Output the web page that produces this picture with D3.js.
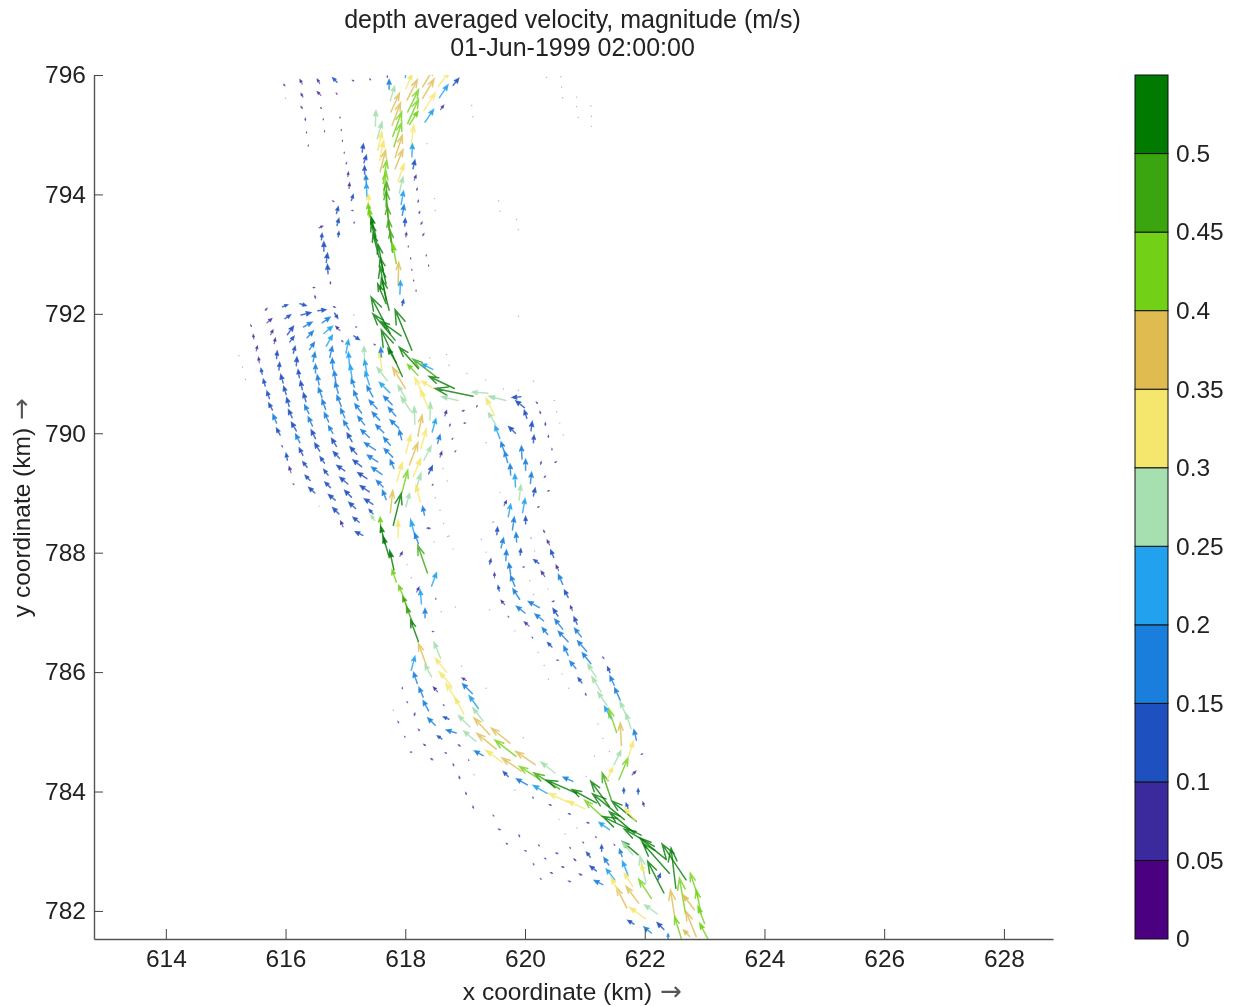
<!DOCTYPE html>
<html>
<head>
<meta charset="utf-8">
<title>depth averaged velocity</title>
<script src="https://cdnjs.cloudflare.com/ajax/libs/d3/7.8.5/d3.min.js"></script>
<style>
  html, body { margin: 0; padding: 0; background: #fff; }
  svg { display: block; filter: blur(0.4px); }
  text { font-family: "Liberation Sans", Arial, sans-serif; fill: #222; }
</style>
</head>
<body>
<div id="chart"></div>
<script>
// one row = [x km, y km, u m/s, v m/s, speed m/s]
const northReach = [
[616.28,795.85,-.04,.07,.07],[616.57,795.86,-.04,.07,.07],[616.86,795.88,-.07,.07,.12],[617.14,795.90,-.02,.01,.02],[617.42,795.92,-.01,.01,.02],[617.70,795.96,0,.02,.07],[615.99,795.82,-.02,.02,.07],
[617.73,795.76,0,.16,.17],[617.75,795.57,.07,.24,.27],[618.0,795.96,.03,.2,.22],[618.01,795.77,.10,.24,.32],[618.03,795.58,.17,.34,.37],[618.04,795.38,.18,.37,.42],[618.29,795.80,.19,.32,.37],[618.29,795.61,.19,.32,.37],[618.55,795.81,.19,.25,.32],[618.57,795.62,.14,.21,.22],[618.80,795.83,.09,.11,.12],[618.31,795.40,.19,.30,.32],[618.59,795.42,.05,.07,.07],[618.33,795.21,.14,.21,.22],[618.04,795.19,.18,.40,.42],[618.07,795.17,.14,.22,.42],
[617.76,795.38,.14,.31,.37],[617.78,795.16,.14,.37,.37],[617.79,794.97,.15,.41,.42],[617.81,794.80,.13,.40,.42],[617.83,794.62,.12,.37,.37],[617.83,794.43,.13,.32,.37],[617.88,794.22,.10,.29,.32],[617.90,794.02,.06,.27,.27],[617.93,793.83,.04,.22,.22],[617.95,793.65,.03,.17,.17],[617.99,793.47,.01,.12,.12],[618.01,793.29,.01,.07,.07],
[618.10,794.81,.04,.35,.32],[618.11,794.63,.01,.21,.22],[618.13,794.43,.03,.14,.12],[618.15,794.24,.03,.08,.07],[618.19,794.07,.01,.03,.07],[618.21,793.87,.01,.03,.07],[618.23,793.68,.01,.03,.07],[618.26,793.50,.02,.03,.07],[618.29,793.31,.02,.03,.07],[618.05,793.12,0,.01,.02],[618.09,792.92,0,.01,.02],[618.35,792.97,0,.01,.02],[618.11,792.73,0,.01,.02],[618.39,792.80,0,.01,.02],[618.14,792.55,0,.01,.02],[618.18,792.38,0,.01,.02],
[617.50,795.14,.01,.26,.27],[617.53,794.93,.08,.28,.27],[617.54,794.74,.07,.31,.32],[617.57,794.57,.07,.33,.32],[617.58,794.38,.09,.36,.37],[617.63,794.18,.06,.39,.42],[617.64,793.99,.04,.39,.42],[617.68,793.79,.01,.42,.47],[617.71,793.62,-.03,.44,.47],[617.73,793.40,-.03,.40,.47],[617.76,793.20,-.04,.38,.47],[617.79,793.03,-.04,.36,.47],[617.85,792.84,-.06,.33,.42],[617.88,792.50,.01,.36,.37],[617.91,792.33,.01,.22,.22],[617.95,792.14,.02,.09,.12],
[617.28,794.71,.02,.13,.12],[617.31,794.53,.04,.12,.12],[617.32,794.34,0,.13,.12],[617.35,794.18,-.01,.14,.17],[617.36,793.96,-.01,.22,.22],[617.38,793.79,.01,.2,.32],[617.40,793.62,-.02,.22,.42],[617.45,793.45,-.06,.32,.42],[617.51,793.29,-.08,.33,.52],[617.54,793.12,-.11,.39,.52],[617.56,792.95,-.10,.39,.52],[617.63,792.73,-.08,.42,.52],[617.68,792.50,-.10,.44,.52],[617.68,792.23,-.10,.56,.52],[617.73,792.06,-.13,.53,.52],[617.68,792.17,-.14,.33,.52],
[616.81,793.88,-.02,.01,.07],[616.85,793.68,.03,.11,.12],[616.86,793.48,.03,.11,.12],[616.88,793.29,.01,.08,.12],[617.13,793.73,-.02,0,.07],[617.14,793.52,.01,.01,.07],[617.10,793.90,.03,.09,.12],[617.06,794.10,.01,.09,.07],[617.04,794.30,.01,.07,.07],[617.01,794.51,.01,.02,.07],[616.98,794.69,0,.01,.02],[616.95,794.89,0,.01,.02],[616.93,795.07,0,.01,.02],[616.91,795.28,0,.01,.02],
[616.56,793.44,.06,.03,.07],[616.60,793.24,.01,.10,.12],[616.64,793.05,0,.15,.12],[616.68,792.86,.02,.15,.12],[616.71,792.67,-.01,.15,.12],[616.75,792.50,0,.03,.07],[616.46,792.44,.02,0,.02],[616.50,792.26,-.01,.04,.07],
[616.28,795.44,-.02,.03,.07],[616.33,795.24,0,.03,.07],[616.35,795.03,0,.01,.02],[616.38,794.81,0,.01,.02],[616.29,795.63,-.03,.06,.07],[616.59,795.66,-.06,.06,.07],[616.60,795.44,-.01,.01,.02],[616.63,795.25,0,.01,.02],[616.65,795.05,0,.01,.02],[616.86,795.68,-.01,.01,.02]
];
const recirculationFan = [
[615.66,792.06,.03,.03,.07],[615.95,792.12,.08,.03,.12],[616.24,792.17,.10,-.03,.12],[616.54,792.05,.13,.02,.12],[616.26,791.98,.16,.04,.12],[615.99,791.92,.09,.06,.12],[615.69,791.85,.08,.07,.07],[616.61,791.85,.13,.09,.17],[616.30,791.78,.14,.08,.17],[616.03,791.65,.10,.14,.12],
[615.43,791.79,-.01,.02,.07],[615.47,791.58,-.01,.07,.07],[615.51,791.38,.02,.08,.07],[615.56,791.18,-.01,.09,.07],[615.61,790.99,-.02,.09,.12],[615.66,790.79,-.03,.11,.12],[615.73,790.58,-.04,.12,.12],[615.78,790.39,-.06,.11,.12],[615.85,790.17,-.06,.14,.17],[615.91,789.97,-.06,.11,.12],[615.95,789.77,-.01,.02,.07],[616.03,789.55,-.02,.11,.12],[616.09,789.34,-.03,.10,.07],[616.14,789.14,-.01,.01,.07],
[615.75,791.65,.04,.08,.07],[615.81,791.50,.02,.09,.07],[615.85,791.25,.01,.12,.12],[615.89,791.06,.01,.12,.12],[615.96,790.84,-.04,.14,.12],[616.01,790.65,-.04,.13,.12],[616.06,790.45,-.04,.14,.12],[616.11,790.26,-.06,.13,.12],[616.18,790.04,-.08,.14,.12],[616.24,789.84,-.07,.14,.17],[616.29,789.63,-.06,.12,.12],[616.36,789.43,-.07,.09,.12],[616.41,789.21,-.08,.08,.12],[616.49,789.00,-.10,.09,.12],
[616.07,791.53,.07,.09,.12],[616.13,791.34,.03,.11,.12],[616.18,791.13,.01,.14,.12],[616.23,790.93,-.02,.13,.12],[616.28,790.73,-.03,.14,.12],[616.34,790.53,-.04,.14,.12],[616.39,790.33,-.07,.14,.17],[616.45,790.12,-.07,.15,.17],[616.50,789.91,-.07,.14,.12],[616.57,789.70,-.08,.13,.12],[616.65,789.50,-.07,.10,.12],[616.71,789.30,-.07,.09,.12],[616.75,789.09,-.09,.09,.12],[616.83,788.88,-.11,.09,.12],[616.89,788.65,-.10,.10,.12],[616.96,788.43,-.04,.10,.07],
[616.36,791.60,.10,.11,.17],[616.40,791.40,.08,.12,.17],[616.46,791.20,.03,.15,.17],[616.50,791.01,0,.14,.17],[616.56,790.81,-.03,.16,.17],[616.61,790.60,-.06,.16,.17],[616.67,790.40,-.06,.16,.17],[616.72,790.19,-.07,.15,.17],[616.79,790.00,-.07,.12,.17],[616.85,789.78,-.08,.13,.12],[616.90,789.58,-.10,.11,.12],[616.99,789.37,-.13,.09,.12],[617.04,789.15,-.13,.11,.12],[617.10,788.93,-.11,.11,.12],[617.17,788.74,-.11,.10,.12],[617.23,788.51,-.10,.08,.12],[617.29,788.29,-.12,.06,.12],
[616.64,791.67,.14,.12,.22],[616.68,791.46,.10,.18,.22],[616.74,791.27,.04,.18,.17],[616.79,791.07,-.01,.18,.17],[616.84,790.86,-.03,.18,.17],[616.88,790.67,-.05,.18,.17],[616.93,790.45,-.07,.18,.17],[616.99,790.26,-.07,.15,.17],[617.06,790.06,-.09,.15,.17],[617.11,789.86,-.08,.14,.12],[617.19,789.65,-.11,.12,.12],[617.27,789.44,-.14,.11,.12],[617.36,789.24,-.15,.10,.12],[617.40,789.02,-.15,.10,.12],[617.46,788.81,-.14,.09,.12],
[617.01,791.34,.04,.22,.22],[617.07,791.11,-.02,.24,.22],[617.11,790.92,-.03,.22,.22],[617.15,790.77,-.05,.14,.17],[617.21,790.55,-.07,.16,.17],[617.27,790.34,-.11,.15,.17],[617.32,790.14,-.11,.14,.17],[617.40,789.93,-.14,.13,.17],[617.50,789.72,-.18,.12,.17],[617.54,789.52,-.17,.11,.17],[617.61,789.31,-.17,.12,.17],[617.63,789.10,-.11,.11,.17],[617.68,788.89,-.06,.15,.17],[617.46,788.65,-.06,.07,.12],
[617.32,791.20,-.01,.25,.27],[617.36,791.00,-.04,.22,.22],[617.40,790.81,-.07,.22,.22],[617.46,790.61,-.10,.18,.17],[617.53,790.41,-.13,.14,.17],[617.57,790.22,-.12,.13,.17],[617.64,790.01,-.13,.13,.17],[617.75,789.80,-.11,.13,.17],[617.79,789.60,-.14,.14,.17],[617.81,789.41,-.06,.14,.17],
[617.61,791.08,-.04,.28,.32],[617.70,790.88,-.17,.22,.27],[617.74,790.68,-.17,.17,.22],[617.78,790.48,-.14,.14,.17],[617.84,790.29,-.12,.14,.17],[617.89,790.09,-.14,.13,.17],[617.94,789.89,-.04,.16,.17],[617.60,791.28,-.01,.15,.17],
[616.96,791.53,-.02,.02,.07],[617.14,791.63,.09,-.06,.12],[616.91,791.72,-.07,.07,.07],[617.50,791.48,-.02,.01,.07],[616.82,792.01,.05,-.08,.12],[616.80,792.12,.03,-.01,.07],[617.17,791.78,.01,0,.02]
];
const centralChannel = [
[618.00,790.75,-.21,.35,.37],[618.01,790.57,-.13,.23,.27],[618.10,790.36,-.17,.25,.27],[618.16,790.15,-.01,.29,.27],[618.21,789.95,.07,.35,.37],[618.01,789.67,.08,.30,.32],[618.26,789.74,.09,.33,.32],[618.07,789.47,.14,.37,.37],[618.31,789.55,.12,.23,.27],[617.86,789.19,.09,.32,.32],[618.13,789.27,.13,.31,.32],[617.94,788.99,.10,.39,.42],[618.17,789.02,.09,.31,.27],[618.39,789.32,.06,.13,.12],[618.54,789.83,.04,.14,.17],[618.45,790.02,.06,.22,.22],[618.58,789.60,.03,.09,.07],[618.41,790.22,.01,.29,.27],[618.39,790.41,-.14,.32,.32],[618.25,788.85,-.07,.28,.32],[617.75,788.67,.04,.37,.37],[618.01,788.77,.06,.22,.27],[617.80,788.46,.13,.53,.52],[617.88,788.25,0,.29,.32],[618.32,788.63,-.03,.14,.17],[618.17,788.24,-.08,.31,.22],
[617.75,791.67,-.32,.61,.52],[618.11,791.39,-.28,.68,.52],[617.83,791.56,-.37,.44,.52],[617.93,791.63,-.33,.24,.52],[617.85,791.18,-.14,.24,.52],[617.95,790.95,-.35,.78,.52],[618.22,791.08,-.32,.36,.52],[618.51,790.95,-.38,.29,.47],[618.82,790.75,-.42,.20,.52],[619.13,790.62,-.63,.13,.52],[618.21,790.97,-.17,.18,.42],[618.46,791.07,-.18,.09,.22],[618.47,790.75,-.19,.12,.32],[618.32,790.61,-.16,.32,.32],[618.88,790.55,-.27,.06,.27],[619.38,790.67,-.26,.02,.27],[619.68,790.55,-.28,.07,.27],[619.49,790.30,-.14,.29,.32],[619.51,790.15,-.12,.19,.27],
[618.66,790.29,.03,.09,.07],[618.95,790.37,.03,.01,.07],[619.19,790.44,.01,.02,.07],[618.74,790.12,.01,.03,.07],[618.98,790.17,.02,0,.02],[618.78,789.90,.01,.01,.02],[618.83,789.69,.01,.01,.02],[618.45,789.13,.01,.01,.02],[618.36,788.41,.05,0,.07],[617.91,787.94,.04,.07,.07],
[617.49,788.54,-.06,.08,.27],[617.59,788.41,-.01,.18,.42],[617.66,788.15,-.07,.29,.52],[617.72,787.96,-.09,.31,.52],[617.81,787.71,-.07,.32,.52],[617.85,787.51,-.07,.20,.42],[617.97,787.26,-.08,.19,.42],[618.05,787.04,-.09,.22,.47],[618.13,786.81,-.11,.28,.47],[618.22,786.51,-.13,.36,.52],
[618.37,787.66,-.16,.46,.47],[618.22,788.15,-.06,.17,.17],[618.44,787.44,.08,.22,.22],[618.27,787.14,-.02,.23,.22],[618.33,786.91,0,.15,.17],[618.19,787.34,.04,.08,.07],[618.51,787.22,0,.01,.02],[618.45,786.68,.02,0,.07]
];
const eastBranch = [
[619.93,790.61,-.14,-.01,.12],[619.99,790.43,-.14,.11,.12],[620.03,790.25,-.04,.13,.12],[620.10,790.04,.02,.15,.12],[620.14,789.84,.01,.12,.12],[620.21,790.50,-.02,.02,.07],[620.26,790.33,-.01,.03,.07],[620.34,790.13,0,.04,.07],[620.39,789.93,0,.03,.07],[620.45,789.72,0,.02,.07],[620.26,789.48,.01,.04,.07],[620.32,789.26,.02,.02,.07],[620.50,789.51,.02,.01,.02],[620.38,789.03,.02,.01,.07],[620.21,788.76,.02,.01,.07],
[619.58,789.91,-.08,.21,.22],[619.65,789.70,-.05,.15,.17],[619.71,789.51,-.05,.18,.17],[619.76,789.30,-.01,.18,.17],[619.84,789.10,-.01,.21,.22],[619.90,788.88,.03,.25,.27],[619.96,788.67,.04,.23,.22],[620.01,788.48,0,.12,.12],[619.86,788.18,-.01,.15,.17],[619.79,788.38,.03,.21,.17],[619.84,790.0,-.11,.11,.12],[619.95,789.57,-.01,.21,.17],[620.01,789.38,0,.18,.17],[620.09,789.16,.02,.18,.17],[620.14,788.95,.03,.13,.12],[619.65,788.79,.04,.08,.07],
[619.72,788.60,.04,.21,.22],[619.53,788.30,.01,.12,.12],[619.60,788.08,.04,.16,.17],[619.68,787.87,.01,.17,.17],[619.92,787.96,.01,.10,.12],[619.41,787.81,.02,.08,.12],[619.76,787.64,-.03,.18,.17],[619.83,787.44,-.07,.17,.17],[619.49,787.58,0,.08,.07],[619.57,787.36,-.02,.08,.12],[619.91,787.22,-.11,.17,.17],[619.66,787.13,-.06,.07,.07],[620.0,786.99,-.14,.11,.17],[620.24,787.08,-.18,.10,.17],[620.31,786.86,-.14,.11,.17],[620.23,787.82,-.08,.06,.12],[620.33,787.60,-.06,.09,.07],[620.33,788.34,-.02,.03,.07],[620.41,788.13,-.04,.08,.07],[620.48,787.92,-.05,.12,.12],[620.56,787.70,-.04,.09,.07],[620.63,787.47,-.07,.16,.17],[620.72,787.25,-.06,.12,.12],[620.49,787.19,-.03,-.01,.07],[620.55,786.94,-.08,.12,.12],[620.63,786.72,-.13,.16,.17],[620.72,786.51,-.16,.17,.17],[620.79,787.03,-.03,.08,.07],[620.87,786.80,-.05,.12,.12],[620.94,786.59,-.11,.14,.17],[621.03,786.35,-.15,.17,.17],[621.10,786.14,-.14,.18,.17],[621.19,785.91,-.14,.22,.27],[621.27,785.67,-.15,.25,.27],[621.37,785.44,-.15,.22,.27],[621.44,785.22,-.11,.20,.22],[621.53,784.99,-.13,.39,.42],[621.59,785.53,-.09,.20,.17],[621.49,785.78,-.07,.15,.17],[621.42,785.99,-.04,.09,.12],[621.32,786.23,-.02,.02,.07],[621.70,785.25,-.11,.25,.27],[621.77,785.05,-.08,.25,.27],
[620.07,786.77,-.08,.07,.07],[620.38,786.63,-.09,.11,.17],[620.85,786.06,-.10,.12,.17],[620.72,786.28,-.07,.15,.17],[620.45,786.42,-.07,.07,.12],[620.95,785.82,-.06,.08,.12],[620.13,786.57,-.01,.01,.07],[619.73,786.92,-.01,.01,.07],[620.53,786.20,.02,0,.07],[621.02,785.61,-.01,.03,.07],[619.99,787.76,-.02,0,.07]
];
const southBend = [
[618.59,786.23,-.11,.27,.27],[618.69,786.00,-.19,.23,.32],[618.78,785.76,-.21,.24,.32],[618.87,785.50,-.19,.31,.32],[618.98,785.30,-.15,.27,.32],[619.30,785.18,-.17,.22,.27],[618.35,786.12,-.13,.36,.37],[618.44,785.92,-.11,.20,.27],[619.22,785.39,-.15,.21,.22],[619.12,785.64,-.16,.16,.17],[619.02,785.86,-.07,.04,.07],[618.39,785.35,-.09,.17,.17],[618.30,785.58,-.07,.16,.17],[618.20,785.81,-.06,.18,.17],[618.10,786.03,.06,.23,.22],[618.54,785.67,-.07,.08,.07],[618.65,785.44,-.01,.01,.07],[618.04,785.49,-.01,.01,.07],[617.95,785.72,0,.02,.07],
[618.15,785.27,.01,.04,.07],[618.50,785.11,-.12,.12,.17],[618.73,785.21,-.09,.04,.12],[619.08,785.08,-.19,.19,.27],[617.89,785.15,-.01,.02,.07],[618.24,785.02,-.02,.02,.07],[618.0,784.91,-.01,.01,.07],[618.61,784.88,-.07,.05,.12],[618.85,784.98,-.16,.05,.17],[619.18,784.84,-.20,.17,.27],[619.41,784.95,-.26,.28,.37],[619.52,784.71,-.32,.26,.37],[619.75,784.81,-.31,.25,.37],[618.34,784.77,-.03,.02,.07],[618.11,784.66,-.02,0,.07],[618.69,784.64,-.02,.01,.07],[618.92,784.76,-.03,.02,.07],[619.30,784.60,-.14,.08,.17],[619.85,784.59,-.35,.27,.42],[619.62,784.49,-.27,.20,.32],[620.17,784.45,-.32,.22,.37],[620.50,784.31,-.23,.18,.27],[619.94,784.34,-.32,.22,.37],[618.46,784.53,-.03,.02,.07],[618.81,784.43,-.01,.03,.07],[619.06,784.52,0,.01,.07],[618.91,784.21,-.01,.04,.07],[619.72,784.25,-.08,.08,.12],[620.04,784.11,-.18,.10,.17],[620.80,784.17,-.16,.07,.17],[620.37,783.97,-.23,.13,.22],[620.25,784.20,-.34,.22,.42],[620.58,784.04,-.43,.27,.47],[620.86,783.97,-.50,.22,.52],[621.19,783.81,-.40,.22,.52],[620.72,783.82,-.32,.15,.32],[621.0,783.71,-.29,.13,.32],[621.29,783.58,-.29,.27,.42],
[619.02,783.95,-.01,.03,.07],[619.14,783.72,-.01,.03,.07],[619.48,783.59,-.01,.01,.07],[619.59,783.36,-.03,.01,.07],[619.91,783.24,-.01,.03,.07],[619.71,783.12,-.02,.01,.07],[620.24,783.09,-.01,.01,.07],[620.02,783.0,-.02,.01,.07],[620.35,782.87,-.02,.01,.07],[620.55,782.96,-.03,.01,.07],[620.15,782.77,-.01,.02,.07],[620.65,782.73,-.03,.01,.07],[620.46,782.63,-.03,.01,.07],[620.27,782.53,-.01,.01,.07],[620.76,782.49,-.03,.01,.07],[620.95,782.60,-.04,.02,.07],[620.85,782.84,-.03,.03,.07],[620.76,783.05,-.01,.01,.07],[620.98,783.14,-.01,.01,.02],[621.09,782.90,-.06,.08,.12],[621.19,782.67,-.10,.08,.12],[621.28,783.0,0,.10,.12],[621.50,783.10,-.01,.01,.07],[621.19,783.23,-.01,.01,.07],[621.07,783.47,-.03,.01,.07],[620.76,783.62,-.03,.01,.07],[620.44,783.77,-.03,.01,.07],[620.14,783.89,-.01,.01,.07],
[621.41,783.36,-.17,.12,.22],[621.30,782.44,-.14,.07,.17],[621.50,782.52,-.14,.18,.22],[621.40,782.77,-.08,.12,.17],[621.72,782.60,-.09,.23,.22],[621.62,782.91,-.04,.12,.17],
[621.44,783.87,-.15,.44,.47],[621.41,783.75,-.31,.42,.52],[621.66,783.53,-.53,.43,.52],[621.86,783.50,-.41,.34,.52],[621.83,783.30,-.42,.36,.52],[621.94,783.27,-.64,.31,.52],[622.16,783.08,-.50,.29,.52],[622.36,782.86,-.44,.36,.52],[621.89,782.94,-.26,.22,.52],[622.41,782.63,-.44,.50,.52],[622.32,782.30,-.27,.53,.52],[622.52,782.38,-.08,.67,.52],[622.69,782.52,-.40,.60,.52],[621.80,782.94,-.17,.21,.27],[621.85,783.50,-.18,.22,.32],[622.02,782.47,-.10,.45,.27],[622.0,782.63,-.06,.14,.32],[622.11,782.21,-.21,.32,.42],
[621.57,784.20,.15,.36,.42],[621.37,784.19,.09,.21,.32],[621.49,784.45,.11,.23,.27],[621.72,784.56,.09,.28,.32],[621.61,784.77,-.02,.38,.37],[621.86,784.86,-.04,.17,.17],[621.94,784.62,.02,.01,.07],[621.79,784.28,.06,.06,.07],[621.65,783.97,0,.08,.12],[621.89,783.96,0,.08,.12],[621.72,783.72,-.03,.08,.12],[621.99,783.75,-.02,.07,.07],[622.22,782.52,.04,.10,.12],
[621.90,782.13,-.21,.28,.37],[621.80,782.41,-.14,.22,.32],[621.70,782.05,-.17,.34,.37],[621.57,782.30,-.13,.25,.32],[622.01,781.87,-.26,.19,.32],[622.21,781.95,-.21,.15,.27],[621.82,781.78,-.10,.06,.12],[622.11,781.63,-.12,.10,.17],[622.32,781.69,-.11,.11,.12],[622.39,781.54,0,.07,.17],[622.51,781.85,-.08,.50,.37],[622.61,781.54,-.11,.36,.42],[622.68,781.96,-.10,.59,.42],[622.86,781.57,-.17,.42,.37],[622.75,781.57,-.10,.11,.37],[622.83,782.02,-.19,.25,.37],[622.94,781.96,-.08,.39,.42],[622.89,782.24,-.13,.39,.42],[623.05,781.54,-.13,.25,.42],[623.0,781.79,-.11,.28,.42]
];
// nearly still water, only a speck in the picture
const stillPoints = [
[620.36,795.96],[620.60,795.97],[620.61,795.80],[620.63,795.62],[620.86,795.63],[620.86,795.47],[621.10,795.48],[620.89,795.29],[621.11,795.31],[621.11,795.14],[619.11,795.49],[619.13,795.30],[618.36,794.85],[618.49,793.93],[618.50,793.73],[619.56,793.89],[619.58,793.72],[619.86,793.58],[619.89,793.41],[619.89,791.96],[616.00,795.61],[618.41,791.26],[618.69,791.32],[618.73,791.14],
[615.22,791.30],[615.28,791.11],[615.33,790.90],[616.56,788.78],[620.49,790.55],[620.53,790.36],[620.58,790.17],[620.64,789.97],[619.46,788.51],[619.58,789.01],[620.10,788.24],[619.34,790.89],[619.35,789.84],[619.03,791.0],[619.64,790.74],[619.89,790.72],[620.14,790.87],[618.63,789.41],[618.70,789.20],[618.50,788.92],[618.58,788.71],[618.64,788.49],[618.71,788.27],[617.14,791.98],
[619.41,787.04],[619.83,786.69],[620.22,786.33],[620.32,786.11],[620.39,785.88],[620.62,785.97],[620.73,785.73],[619.27,788.22],[619.35,788.01],[619.48,788.52],[620.10,788.25],[620.16,788.03],[620.08,787.53],[620.38,787.39],[620.14,787.30],[618.80,788.06],[618.94,786.10],[619.35,785.73],[617.80,785.36],[621.22,785.13],[621.30,784.89],[619.97,784.90],[618.73,788.28],[618.48,788.18],[618.60,787.01],[618.84,787.09],[618.10,787.58],[618.03,787.80],
[619.83,784.02],[620.67,783.29],[620.87,783.39],[620.57,783.53],[619.15,784.28],[621.02,784.25],[621.16,784.59],[621.41,784.67]
];

const xTicks = [614,616,618,620,622,624,626,628];
const yTicks = [782,784,786,788,790,792,794,796];
const speedBreaks = [0.05,0.1,0.15,0.2,0.25,0.3,0.35,0.4,0.45,0.5];
const barTicks = [0,0.05,0.1,0.15,0.2,0.25,0.3,0.35,0.4,0.45,0.5];
const bandColours = ["#4b0082","#3a2a9e","#1f50c0","#1a7fdc","#22a2ee","#a6dfb0","#f5e76e","#e0bc50","#72d116","#3aa50e","#007a00"];

const W = 1235, H = 1006;
const svg = d3.select("#chart").append("svg").attr("width",W).attr("height",H);

const x = d3.scaleLinear().domain([612.8,628.82]).range([94,1053]);
const y = d3.scaleLinear().domain([781.53,796]).range([939,75]);
const colour = d3.scaleThreshold().domain(speedBreaks).range(bandColours);

svg.append("clipPath").attr("id","plotArea").append("rect")
   .attr("x",94).attr("y",75).attr("width",959).attr("height",864);

// quiver: 1 m/s is drawn as 1 km of the plot, head keeps a minimum size so short arrows still read
function arrowPath(d)
{
   let x0 = x(d[0]), y0 = y(d[1]);
   let x1 = x(d[0]+d[2]), y1 = y(d[1]+d[3]);
   let dx = x1-x0, dy = y1-y0;
   let len = Math.sqrt(dx*dx+dy*dy);
   let headL = Math.max(0.33*len, Math.min(len*0.5,4.5));
   let ux = dx/len, uy = dy/len;
   let hw = Math.max(0.33*headL, Math.min(len*0.22,2));
   let p = d3.path();
   p.moveTo(x0,y0);
   p.lineTo(x1,y1);
   p.moveTo(x1-headL*ux+hw*uy, y1-headL*uy-hw*ux);
   p.lineTo(x1,y1);
   p.lineTo(x1-headL*ux-hw*uy, y1-headL*uy+hw*ux);
   return p.toString();
}

const plot = svg.append("g").attr("clip-path","url(#plotArea)");

plot.selectAll("circle.still").data(stillPoints).enter().append("circle")
    .attr("class","still")
    .attr("cx",d=>x(d[0])).attr("cy",d=>y(d[1])).attr("r",0.7)
    .attr("fill",bandColours[0]).attr("opacity",0.35);

const allArrows = [].concat(northReach,recirculationFan,centralChannel,eastBranch,southBend);
plot.selectAll("path.arrow").data(allArrows).enter().append("path")
    .attr("class","arrow")
    .attr("d",arrowPath)
    .attr("fill",d=>colour(d[4]))
    // long arrows keep open barbs, short ones look filled
    .attr("fill-opacity",d=>Math.hypot(d[2],d[3])<0.34 ? 0.75 : 0)
    .attr("stroke",d=>colour(d[4]))
    .attr("stroke-width",d=>d[4]<0.1 ? 1.2 : 1.5)
    .attr("stroke-linecap","round")
    .attr("stroke-opacity",d=>d[4]<0.1 ? 0.7 : 0.8);

// axes, only left and bottom with inward ticks
function styleAxis(g)
{
   g.select(".domain").attr("stroke","#555").attr("stroke-width",1.4);
   g.selectAll(".tick line").attr("stroke","#444").attr("stroke-width",1);
   g.selectAll("text").attr("font-size",24.5).attr("fill","#222");
}

svg.append("g").attr("transform","translate(0,939)")
   .call(d3.axisBottom(x).tickValues(xTicks).tickSizeInner(-10).tickSizeOuter(0).tickPadding(11).tickFormat(d3.format("d")))
   .call(styleAxis);
svg.append("g").attr("transform","translate(94,0)")
   .call(d3.axisLeft(y).tickValues(yTicks).tickSizeInner(-9).tickSizeOuter(0).tickPadding(8).tickFormat(d3.format("d")))
   .call(styleAxis);

// titles, the arrow glyph of the labels is longer and greyer than the text
function axisLabel(sel)
{
   sel.append("tspan").text(sel.datum());
   sel.append("tspan").attr("font-family","DejaVu Sans").attr("font-size",26).style("fill","#555").text(" \u2192");
}
svg.append("text").attr("x",572.5).attr("y",28).attr("text-anchor","middle").attr("font-size",25).text("depth averaged velocity, magnitude (m/s)");
svg.append("text").attr("x",572.5).attr("y",56).attr("text-anchor","middle").attr("font-size",25).text("01-Jun-1999 02:00:00");
svg.append("text").datum("x coordinate (km)").attr("x",572.5).attr("y",1000).attr("text-anchor","middle").attr("font-size",24.5).call(axisLabel);
svg.append("text").datum("y coordinate (km)").attr("transform","translate(30,507.5) rotate(-90)").attr("text-anchor","middle").attr("font-size",24.5).call(axisLabel);

// colour bar
const bar = d3.scaleLinear().domain([0,0.55]).range([939,75]);
const bandEdges = [0].concat(speedBreaks);
svg.selectAll("rect.band").data(bandEdges).enter().append("rect")
   .attr("class","band")
   .attr("x",1135).attr("width",33)
   .attr("y",(d,i)=>bar(i<10 ? bandEdges[i+1] : 0.55))
   .attr("height",(d,i)=>bar(d)-bar(i<10 ? bandEdges[i+1] : 0.55))
   .attr("fill",(d,i)=>bandColours[i])
   .attr("stroke","#111").attr("stroke-width",1);

svg.append("g").attr("transform","translate(1168,0)")
   .call(d3.axisRight(bar).tickValues(barTicks).tickSize(0).tickPadding(8).tickFormat(d=>String(d)))
   .call(g=>g.select(".domain").remove())
   .call(g=>g.selectAll("text").attr("font-size",24.5).attr("fill","#222"));
</script>
</body>
</html>
